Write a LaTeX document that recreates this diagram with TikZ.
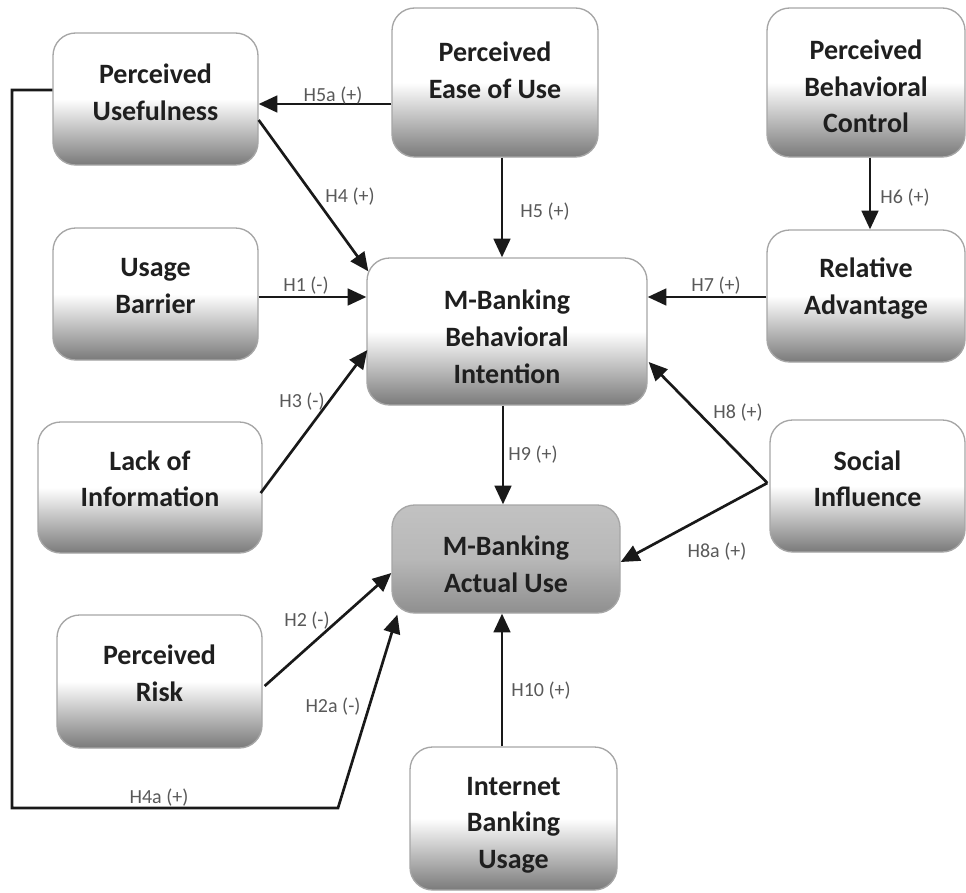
\documentclass[tikz,border=0pt]{standalone}
\usepackage{fontspec}
\setmainfont{Carlito}
\usetikzlibrary{arrows.meta,calc}
\begin{document}
\begin{tikzpicture}[x=0.75pt,y=-0.75pt,
  sz/.style 2 args={minimum width=#1*0.75pt,minimum height=#2*0.75pt},
  box/.style={draw=black!35,line width=1pt,rounded corners=17pt,inner sep=0pt,
    top color=white,bottom color=black!52,middle color=white},
  dbox/.style={draw=black!35,line width=1pt,rounded corners=17pt,inner sep=0pt,
    top color=black!24,bottom color=black!44,middle color=black!28},
  bt/.style={font=\fontsize{21}{27.5}\selectfont\bfseries,text=black!88,align=center},
  hl/.style={font=\fontsize{15}{18}\selectfont,text=black!65,inner sep=1pt},
  arr/.style={line width=2pt,draw=black!90,-{Triangle[length=14pt,width=12.5pt]}}]
\useasboundingbox (0,0) rectangle (966,892);

% boxes
\node[box,sz={205}{132},label={[bt,yshift=5pt]center:Perceived\\Usefulness}] (pu) at (155.5,99) {};
\node[box,sz={206}{149},label={[bt,yshift=9pt]center:Perceived\\Ease of Use}] (peu) at (495,82.5) {};
\node[box,sz={198}{149},label={[bt,yshift=-3pt]center:Perceived\\Behavioral\\Control}] (pbc) at (866,82.5) {};
\node[box,sz={205}{132},label={[bt,yshift=6pt]center:Usage\\Barrier}] (ub) at (155.5,294) {};
\node[box,sz={280}{147},label={[bt,yshift=-4pt]center:M-Banking\\Behavioral\\Intention}] (mbi) at (507,331.5) {};
\node[box,sz={198}{132},label={[bt,yshift=5.5pt]center:Relative\\Advantage}] (ra) at (866,296) {};
\node[box,sz={224}{131},label={[bt,yshift=6.5pt]center:Lack of\\Information}] (loi) at (150,487.5) {};
\node[box,sz={195}{132},label={[bt,yshift=5.5pt]center:Social\\Influence}] (si) at (867.5,486) {};
\node[dbox,sz={228}{108},label={[bt,yshift=-4pt]center:M-Banking\\Actual Use}] (au) at (506,559) {};
\node[box,sz={205}{133},label={[bt,yshift=6pt]center:Perceived\\Risk}] (pr) at (159.5,681.5) {};
\node[box,sz={207}{143},label={[bt,yshift=-5pt]center:Internet\\Banking\\Usage}] (ibu) at (513.5,818.5) {};

% helper coordinates
\coordinate (c1) at (12,808);
\coordinate (c2) at (338,808);

% connectors
\draw[arr] ($(peu.west)+(0,21.5)$) -- ($(pu.east)+(0,5)$);
\draw[arr] ($(pu.east)+(0,21)$) -- ($(mbi.north west)+(2,14)$);
\draw[arr] ($(peu.south)+(7,0)$) -- ($(mbi.north)+(-5,0)$);
\draw[arr] ($(pbc.south)+(4,0)$) -- ($(ra.north)+(4,0)$);
\draw[arr] ($(ub.east)+(0,3)$) -- ($(mbi.west)+(0,-34.5)$);
\draw[arr] ($(ra.west)+(0,1)$) -- ($(mbi.east)+(0,-34.5)$);
\draw[arr] ($(loi.east)+(-2,5.5)$) -- ($(mbi.west)+(1,18.5)$);
\draw[arr] ($(si.west)+(-2,-3)$) -- ($(mbi.east)+(1,30.5)$);
\draw[arr] ($(si.west)+(-2,-3)$) -- ($(au.east)+(0,3)$);
\draw[arr] ($(mbi.south)+(-4,0)$) -- ($(au.north)+(-3,0)$);
\draw[arr] ($(ibu.north)+(-11.5,0)$) -- ($(au.south)+(-4,0)$);
\draw[arr] ($(pr.east)+(2,4.5)$) -- ($(au.west)+(0,14)$);
\draw[arr,line join=miter] ($(pu.west)+(0,-9)$) -| (c1) -- (c2) -- ($(au.south west)+(6,1)$);

% labels
\node[hl] (l5a) at (333,96) {H5a (+)};
\node[hl] (l4) at (350,197) {H4 (+)};
\node[hl] (l5) at (545,212) {H5 (+)};
\node[hl] (l6) at (905,198) {H6 (+)};
\node[hl] (l1) at (306,286) {H1 (-)};
\node[hl] (l7) at (716,286) {H7 (+)};
\node[hl] (l3) at (302,402) {H3 (-)};
\node[hl] (l8) at (738,413) {H8 (+)};
\node[hl] (l9) at (533,455) {H9 (+)};
\node[hl] (l8a) at (717,552) {H8a (+)};
\node[hl] (l2) at (307,621) {H2 (-)};
\node[hl] (l2a) at (333,707) {H2a (-)};
\node[hl] (l10) at (541,691) {H10 (+)};
\node[hl] (l4a) at (159,798) {H4a (+)};
\end{tikzpicture}
\end{document}
